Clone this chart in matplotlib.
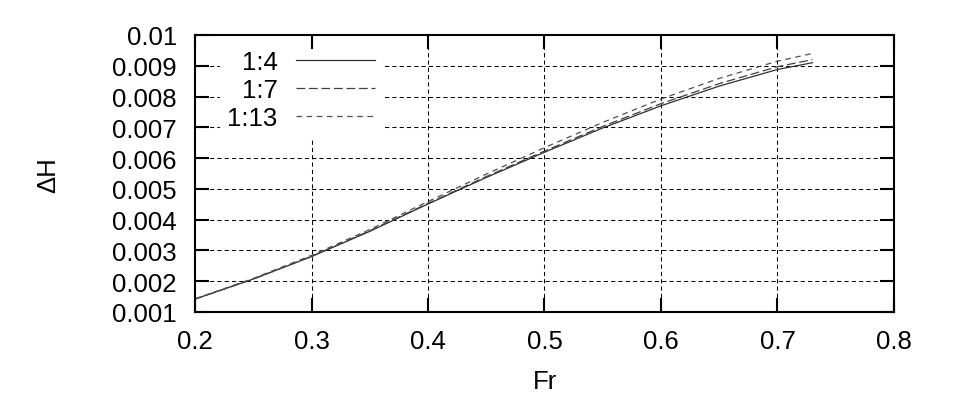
import numpy as np
import matplotlib
matplotlib.use('Agg')
import matplotlib.pyplot as plt
from matplotlib.ticker import FuncFormatter

plt.rcParams['font.family'] = ['Liberation Sans', 'DejaVu Sans']

# dati
fr = [0.2, 0.25, 0.3, 0.35, 0.4, 0.45, 0.5, 0.55, 0.6, 0.65, 0.7, 0.73]
dh_1_4 = [0.00142, 0.00207, 0.00280, 0.00362, 0.00451, 0.00537, 0.00619, 0.00698, 0.00770, 0.00834, 0.00888, 0.00910]
dh_1_7 = [0.00142, 0.00207, 0.00281, 0.00364, 0.00453, 0.00540, 0.00623, 0.00703, 0.00777, 0.00842, 0.00897, 0.00920]
dh_1_13 = [0.00143, 0.00209, 0.00284, 0.00368, 0.00459, 0.00548, 0.00634, 0.00716, 0.00792, 0.00859, 0.00915, 0.00940]

xticks = np.arange(0.2, 0.81, 0.1)
yticks = np.arange(0.001, 0.01001, 0.001)

fig = plt.figure(figsize=(9.54, 4.10), dpi=100)
ax = fig.add_axes([195/954, 1 - 313/410, (894 - 195)/954, (313 - 36)/410])

# griglia a mano, sotto la legenda
for xv in xticks[1:-1]:
    ax.axvline(xv, color='black', lw=0.75, ls=(0, (4, 3)), zorder=1)
for yv in yticks[1:-1]:
    ax.axhline(yv, color='black', lw=0.75, ls=(0, (4, 3)), zorder=1)

ax.plot(fr, dh_1_4, color='#303030', lw=0.9, ls='-', label='1:4', zorder=2)
ax.plot(fr, dh_1_7, color='#404040', lw=0.9, ls=(0, (7, 3)), label='1:7', zorder=2)
ax.plot(fr, dh_1_13, color='#505050', lw=0.9, ls=(0, (4.5, 3.6)), label='1:13', zorder=2)

ax.set_xlim(0.2, 0.8)
ax.set_ylim(0.001, 0.01)
ax.set_xticks(xticks)
ax.set_yticks(yticks)
fmt = FuncFormatter(lambda v, p: '%g' % round(v, 4))
ax.xaxis.set_major_formatter(fmt)
ax.yaxis.set_major_formatter(fmt)
ax.tick_params(direction='in', length=10, width=1.5, top=True, right=True,
               labelsize=18.5, colors='black')
ax.tick_params(axis='x', pad=12)
ax.tick_params(axis='y', pad=13)
for s in ax.spines.values():
    s.set_linewidth(1.5)
    s.set_zorder(3)

leg = ax.legend(loc='upper right', bbox_to_anchor=(383/954, 1 - 43/410),
                bbox_transform=fig.transFigure, markerfirst=False,
                fontsize=18.5, handlelength=3.1, handletextpad=0.7,
                labelspacing=0.17, borderpad=0.3, borderaxespad=0,
                frameon=True, fancybox=False, framealpha=1,
                facecolor='white', edgecolor='none')
leg.set_zorder(1.2)

fig.text(545/954, 1 - 382/410, 'Fr', fontsize=18.5, ha='center', va='center')
fig.text(48/954, 1 - 175/410, 'ΔH', fontsize=18.5, ha='center', va='center', rotation=90)

fig.savefig('out.png', dpi=100)
